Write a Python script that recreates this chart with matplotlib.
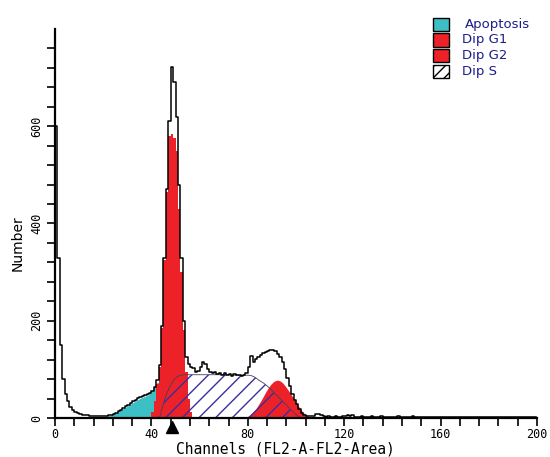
import numpy as np
import matplotlib
matplotlib.use("Agg")
import matplotlib.pyplot as plt
from matplotlib.patches import Rectangle

# ---------------- data (counts per channel) ----------------
total = [600, 330, 150, 80, 50, 34, 23, 16, 12, 10,
         8, 7, 6, 6, 5, 5, 5, 4, 4, 4,
         4, 5, 6, 7, 9, 11, 14, 17, 20, 24,
         27, 31, 34, 37, 41, 44, 46, 48, 50, 52,
         56, 63, 78, 110, 190, 330, 470, 610, 722, 690,
         620, 480, 330, 200, 125, 112, 105, 102, 95, 96,
         105, 115, 112, 100, 94, 92, 95, 90, 93, 89,
         92, 88, 90, 87, 91, 88, 89, 86, 88, 92,
         105, 128, 116, 122, 125, 130, 133, 135, 137, 140,
         140, 137, 132, 126, 115, 100, 82, 66, 50, 38,
         28, 18, 11, 7, 5, 4, 4, 5, 8, 9,
         6, 4, 3, 4, 3, 3, 4, 3, 3, 4,
         5, 6, 5, 6, 3, 3, 3, 4, 3, 3,
         3, 4, 3, 3, 3, 4, 3, 3, 3, 3,
         3, 3, 4, 3, 3, 3, 3, 3, 4, 3,
         3, 3, 3, 3, 3, 3, 3, 3, 3, 3,
         3, 3, 3, 3, 3, 3, 3, 3, 3, 3,
         3, 3, 3, 3, 3, 3, 3, 3, 3, 3,
         3, 3, 3, 3, 3, 3, 3, 3, 3, 3,
         3, 3, 3, 3, 3, 3, 3, 3, 3, 3]

apop_start = 17
apoptosis = [0, 1, 2, 3, 4, 5, 7, 9, 11, 14, 17, 20, 23, 26, 29, 32, 35,
             38, 41, 43, 45, 47, 51, 58, 68, 74, 72, 60, 40, 20, 0]

g1_start = 39
dip_g1 = [0, 12, 35, 70, 105, 185, 325, 465, 580, 585, 575, 550, 430, 300,
          180, 95, 40, 12, 0]

s_start = 42
dip_s = [0, 3, 20, 38, 52, 63, 72, 79, 84, 87, 88, 89, 89, 89, 89, 89, 89,
         89, 89, 89, 89, 89, 89, 89, 89, 89, 89, 89, 89, 89, 89, 88, 88, 88,
         88, 88, 88, 88, 88, 87, 85, 82, 78, 75, 72, 68, 64, 59, 54, 49, 44,
         39, 34, 29, 24, 19, 14, 9, 5, 2, 0]

g2_start = 78
dip_g2 = [0, 2, 5, 9, 14, 20, 28, 36, 45, 54, 62, 69, 74, 77, 78, 76, 72,
          66, 59, 52, 44, 36, 28, 21, 14, 9, 5, 2, 0]

x_ticks = [0, 40, 80, 120, 160, 200]
y_ticks = [0, 200, 400, 600]
legend_labels = ["Apoptosis", "Dip G1", "Dip G2", "Dip S"]
marker_channel = 48.5

# ---------------- figure ----------------
CYAN = "#3cc0c6"
RED = "#ec2228"
HATCH = "#3a2fa0"
NAVY = "#1c1c8a"
MONO = "DejaVu Sans Mono"

fig = plt.figure(figsize=(5.5, 4.57), dpi=100)
ax = fig.add_axes([55 / 550, 39 / 457, 482 / 550, 389 / 457])


def xs(start, arr):
    return np.arange(start, start + len(arr)) + 0.5


# apoptosis
ax.fill_between(xs(apop_start, apoptosis), 0, apoptosis, color=CYAN,
                linewidth=0, zorder=1)
# S phase white base
ax.fill_between(xs(s_start, dip_s), 0, dip_s, facecolor="white",
                edgecolor="none", zorder=2)
# G1 / G2 red
ax.fill_between(xs(g1_start, dip_g1), 0, dip_g1, color=RED, step="mid",
                linewidth=0, zorder=3)
ax.fill_between(xs(g2_start, dip_g2), 0, dip_g2, color=RED,
                linewidth=0, zorder=3)
# S hatch overlay
ax.fill_between(xs(s_start, dip_s), 0, dip_s, facecolor="none",
                edgecolor=HATCH, hatch="//", linewidth=0.0, zorder=4)
ax.plot(xs(s_start, dip_s), dip_s, color="#404060", lw=0.6, zorder=4)

# total histogram outline
ax.step(xs(0, total), total, where="mid", color="black", lw=1.1, zorder=5)

ax.set_xlim(0, 200)
ax.set_ylim(0, 800)

for s in ["top", "right"]:
    ax.spines[s].set_visible(False)
for s in ["left", "bottom"]:
    ax.spines[s].set_linewidth(1.6)
    ax.spines[s].set_zorder(6)

ax.set_xticks(x_ticks)
ax.set_xticks(np.arange(0, 201, 8), minor=True)
ax.set_yticks(y_ticks)
ax.set_yticks(np.arange(0, 761, 40), minor=True)
ax.tick_params(axis="both", which="both", direction="out", length=5.5,
               width=1.2, color="black")
ax.tick_params(axis="x", which="major", pad=2, labelsize=8.5)
ax.tick_params(axis="y", which="major", pad=3, labelsize=8.5)
ax.set_xticklabels([str(v) for v in x_ticks], fontfamily=MONO)
ax.set_yticklabels([str(v) for v in y_ticks], fontfamily=MONO,
                   rotation=90, va="center")

# triangle marker
ax.plot([marker_channel], [-19], marker="^", color="black", markersize=9,
        clip_on=False, zorder=7)

fig.text(285.5 / 550, 1 - 449 / 457, "Channels (FL2-A-FL2-Area)",
         fontsize=10.5, fontfamily=MONO, ha="center", va="center")
fig.text(18 / 550, 1 - 243 / 457, "Number", fontsize=10, rotation=90,
         ha="center", va="center", fontfamily="DejaVu Sans")

# legend
box_faces = [CYAN, RED, RED, "white"]
for i, (lab, fc) in enumerate(zip(legend_labels, box_faces)):
    top = 18 + i * 15.5
    r = Rectangle((433 / 550, 1 - (top + 13) / 457), 16 / 550, 13 / 457,
                  transform=fig.transFigure, facecolor=fc,
                  edgecolor="black", linewidth=1.0,
                  hatch="///" if fc == "white" else None)
    fig.add_artist(r)
    tx = 465 if i == 0 else 462
    fig.text(tx / 550, 1 - (top + 6.5) / 457, lab, fontsize=9.5,
             color=NAVY, ha="left", va="center", fontfamily="DejaVu Sans")

fig.savefig("out.png", dpi=100)
